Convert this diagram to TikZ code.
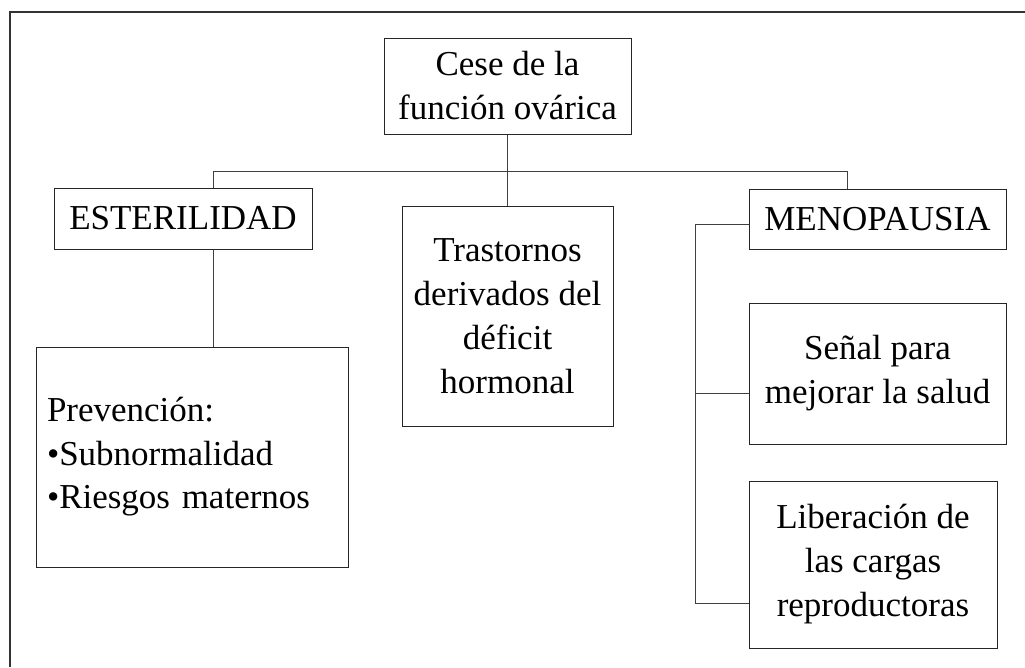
\documentclass[tikz,border=0pt]{standalone}
\usepackage{fontspec}
\setmainfont{Liberation Serif}
\begin{document}
\begin{tikzpicture}[x=1pt,y=-1pt,
  box/.style={draw=black!85, line width=1pt, fill=white, inner sep=0pt, align=center,
    font=\fontsize{35}{44}\selectfont},
  conn/.style={draw=black!75, line width=1pt}]
\useasboundingbox (0,0) rectangle (1025,667);
\draw[black!80, line width=1.2pt] (10,667) -- (10,12) -- (1025,12);

\node[box, minimum width=247pt, minimum height=96pt] (top) at (507.5,86) {Cese de la\\función ovárica};
\node[box, minimum width=258pt, minimum height=61pt] (ester) at (183,218.5) {ESTERILIDAD};
\node[box, minimum width=211pt, minimum height=220pt] (mid) at (507.5,316) {Trastornos\\derivados del\\déficit\\hormonal};
\node[box, minimum width=257pt, minimum height=60pt] (meno) at (877.5,219) {MENOPAUSIA};
\node[box, text width=290pt, inner xsep=11pt, minimum height=220pt, align=left,
  font=\fontsize{35}{43.5}\selectfont] (prev) at (192,457) {Prevención:\\•Subnormalidad\\•Riesgos maternos};
\node[box, minimum width=257pt, minimum height=141pt] (senal) at (877.5,373.5) {Señal para\\mejorar la salud};
\node[box, minimum width=248pt, minimum height=167pt] (lib) at (873,564.5) {Liberación de\\las cargas\\reproductoras};

\coordinate (hl) at (213,171);
\coordinate (hr) at (847,171);
\coordinate (b1) at (695,224);
\coordinate (b2) at (695,393);
\coordinate (b3) at (695,603);

\draw[conn] (top.south) -- (mid.north);
\draw[conn] (hl) -- (hr);
\draw[conn] (hl) -- (hl |- ester.north);
\draw[conn] (hl |- ester.south) -- (hl |- prev.north);
\draw[conn] (hr) -- (hr |- meno.north);
\draw[conn] (b1) -- (b3);
\draw[conn] (b1) -- (b1 -| meno.west);
\draw[conn] (b2) -- (b2 -| senal.west);
\draw[conn] (b3) -- (b3 -| lib.west);
\end{tikzpicture}
\end{document}
